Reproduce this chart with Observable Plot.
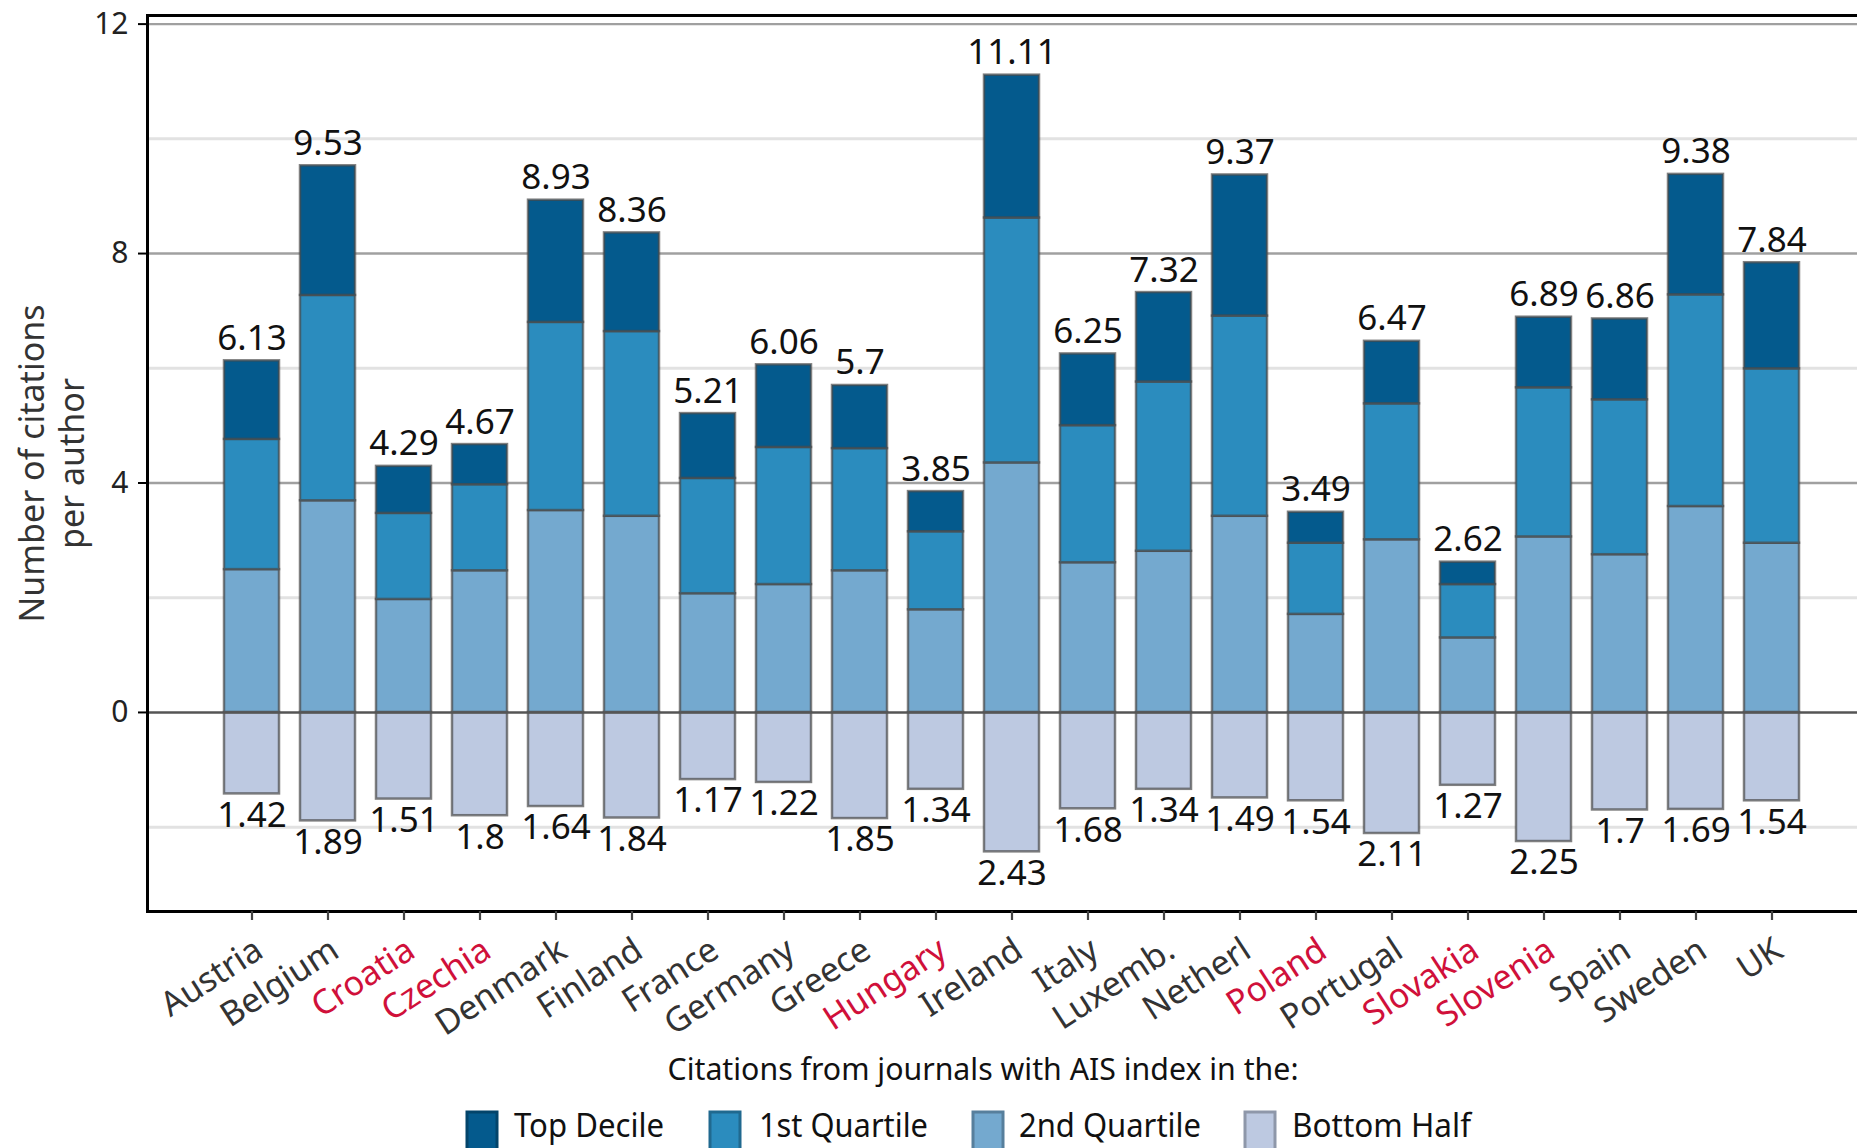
<!DOCTYPE html>
<html><head><meta charset="utf-8">
<script src="https://cdn.jsdelivr.net/npm/d3@7"></script>
<script src="https://cdn.jsdelivr.net/npm/@observablehq/plot@0.6"></script>
<style>
html,body{margin:0;padding:0;background:#fff;overflow:hidden;width:1857px;height:1148px}
#wrap{position:relative;width:1857px;height:1148px;overflow:hidden;background:#fff}
#chart{position:absolute;left:0;top:0;width:1880px}
#chart svg{max-width:none !important;width:1880px;height:1030px}
#legend{position:absolute;left:0;top:1030px}
</style></head><body>
<div id="wrap"><div id="chart"></div><svg id="legend" width="1857" height="118"></svg></div>
<script>
const countries = ["Austria","Belgium","Croatia","Czechia","Denmark","Finland","France","Germany","Greece","Hungary","Ireland","Italy","Luxemb.","Netherl","Poland","Portugal","Slovakia","Slovenia","Spain","Sweden","UK"];
const redCountries = ["Croatia","Czechia","Hungary","Poland","Slovakia","Slovenia"];
const totals     = [6.13,9.53,4.29,4.67,8.93,8.36,5.21,6.06,5.7,3.85,11.11,6.25,7.32,9.37,3.49,6.47,2.62,6.89,6.86,9.38,7.84];
const topDecile  = [1.37,2.26,0.82,0.70,2.13,1.72,1.13,1.44,1.10,0.70,2.49,1.25,1.56,2.46,0.54,1.09,0.39,1.23,1.41,2.10,1.85];
const firstQuart = [2.27,3.58,1.50,1.50,3.28,3.22,2.01,2.39,2.13,1.36,4.27,2.39,2.95,3.49,1.24,2.37,0.93,2.60,2.70,3.69,3.04];
const secondQuart= [2.49,3.69,1.97,2.47,3.52,3.42,2.07,2.23,2.47,1.79,4.35,2.61,2.81,3.42,1.71,3.01,1.30,3.06,2.75,3.59,2.95];
const bottomHalf = [1.42,1.89,1.51,1.8,1.64,1.84,1.17,1.22,1.85,1.34,2.43,1.68,1.34,1.49,1.54,2.11,1.27,2.25,1.7,1.69,1.54];
const bands  = ["Top Decile","1st Quartile","2nd Quartile","Bottom Half"];
const colors = ["#045a8d","#2b8cbe","#74a9cf","#bdc9e1"];
const majorTicks = [0,4,8,12];
const minorGrid = [-2,2,6,10];
const legendTitle = "Citations from journals with AIS index in the:";
const yTitle = "Number of citations\nper author";

const rows = [];
countries.forEach((c,i)=>{
  rows.push({country:c, band:"Bottom Half", value:-bottomHalf[i]});
  rows.push({country:c, band:"2nd Quartile", value:secondQuart[i]});
  rows.push({country:c, band:"1st Quartile", value:firstQuart[i]});
  rows.push({country:c, band:"Top Decile", value:topDecile[i]});
});
const topLabels = countries.map((c,i)=>({country:c, v:totals[i], t:String(totals[i])}));
const botLabels = countries.map((c,i)=>({country:c, v:-bottomHalf[i], t:String(bottomHalf[i])}));
const font = "'Noto Sans', 'Open Sans', sans-serif";

const chart = Plot.plot({
  width:1880, height:1030,
  marginLeft:147, marginRight:4, marginTop:15, marginBottom:119,
  x:{domain:countries, paddingInner:0.28, paddingOuter:1, axis:null},
  y:{domain:[-3.47,12.15], axis:null},
  color:{domain:bands, range:colors},
  style:{fontFamily:font, background:"white", overflow:"visible", color:"#222"},
  marks:[
    Plot.ruleY(minorGrid, {stroke:"#e2e2e2", strokeWidth:3}),
    Plot.ruleY(majorTicks.filter(d=>d!==0), {stroke:"#a0a0a0", strokeWidth:2.4}),
    Plot.barY(rows, {x:"country", y:"value", fill:"band", stroke:"#4a4a4a", strokeOpacity:0.7, strokeWidth:2.5}),
    Plot.ruleY([0], {stroke:"#555", strokeWidth:2.4}),
    Plot.text(topLabels, {x:"country", y:"v", text:"t", lineAnchor:"bottom", dy:-11, fontSize:35, fill:"#111"}),
    Plot.text(botLabels, {x:"country", y:"v", text:"t", lineAnchor:"top", dy:8, fontSize:35, fill:"#111"}),
    Plot.frame({stroke:"black", strokeWidth:3}),
    Plot.axisY(majorTicks, {tickSize:9, tickPadding:10, fontSize:30, label:null, stroke:"black", strokeWidth:2, fill:"#222", tickFormat:d=>String(d)}),
    Plot.axisX({tickSize:9, tickFormat:()=>"", label:null, stroke:"#444", strokeWidth:2.2}),
    Plot.text(countries.filter(c=>!redCountries.includes(c)), {x:d=>d, text:d=>d, frameAnchor:"bottom", rotate:-33, textAnchor:"end", lineAnchor:"top", dx:0, dy:24, fontSize:34, fill:"#333"}),
    Plot.text(countries.filter(c=>redCountries.includes(c)), {x:d=>d, text:d=>d, frameAnchor:"bottom", rotate:-33, textAnchor:"end", lineAnchor:"top", dx:0, dy:24, fontSize:34, fill:"#d0103a"}),
    Plot.text([yTitle], {text:d=>d, frameAnchor:"left", textAnchor:"middle", rotate:-90, dx:-96, fontSize:34, lineHeight:1.15, fill:"#333"})
  ]
});
document.getElementById("chart").appendChild(chart);

// legend
const lg = d3.select("#legend");
lg.append("text").attr("x",983).attr("y",50).attr("text-anchor","middle")
  .attr("font-family",font).attr("font-size",31).attr("fill","#111")
  .attr("textLength",631).attr("lengthAdjust","spacingAndGlyphs").text(legendTitle);
const swX = [467,710,973,1245];
const txX = [514,759,1019,1292];
const txW = [150,169,182,179];
bands.forEach((b,i)=>{
  lg.append("rect").attr("x",swX[i]).attr("y",82).attr("width",30).attr("height",40)
    .attr("fill",colors[i]).attr("stroke",d3.color(colors[i]).darker(0.8)).attr("stroke-width",3);
  lg.append("text").attr("x",txX[i]).attr("y",107).attr("font-family",font).attr("font-size",32)
    .attr("fill","#111").attr("textLength",txW[i]).attr("lengthAdjust","spacingAndGlyphs").text(b);
});
</script></body></html>
